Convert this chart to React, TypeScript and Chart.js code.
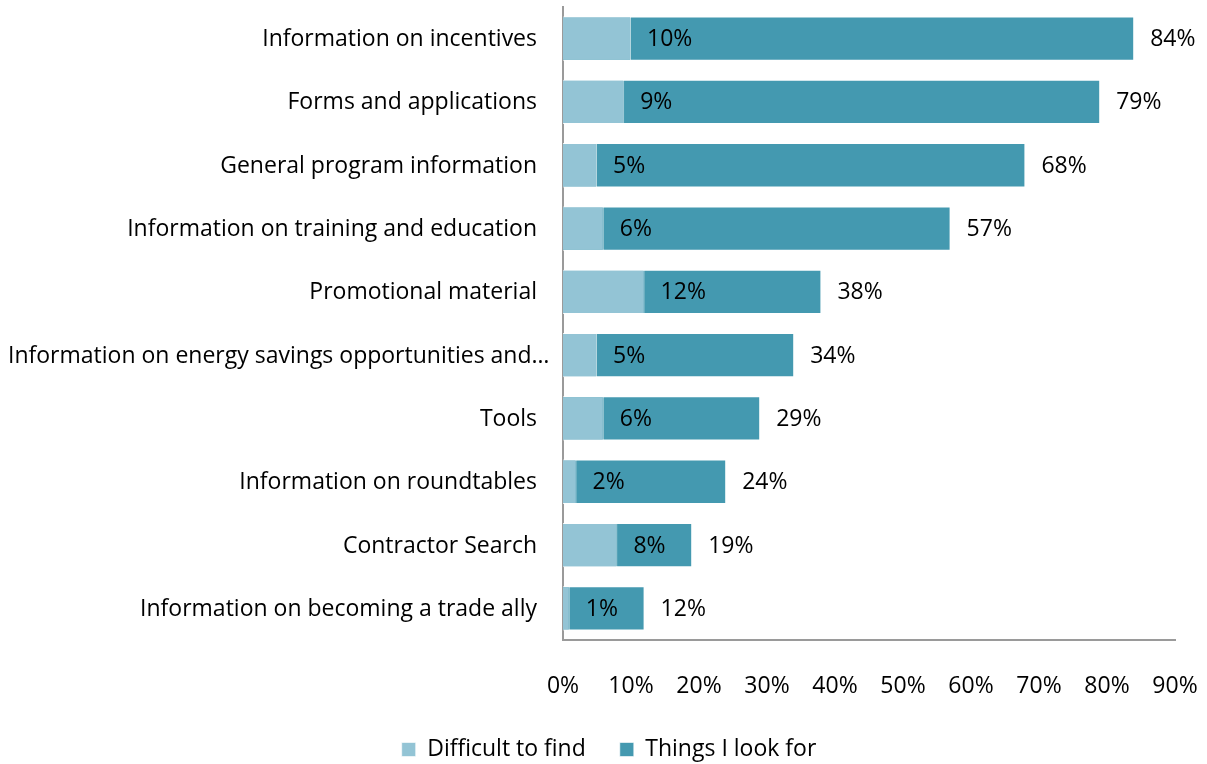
import React, { useEffect, useRef } from "react";
import { Chart, registerables } from "chart.js";

Chart.register(...registerables);

const categories = [
  "Information on incentives",
  "Forms and applications",
  "General program information",
  "Information on training and education",
  "Promotional material",
  "Information on energy savings opportunities and…",
  "Tools",
  "Information on roundtables",
  "Contractor Search",
  "Information on becoming a trade ally",
];
const difficultToFind = [10, 9, 5, 6, 12, 5, 6, 2, 8, 1];
const thingsILookFor = [84, 79, 68, 57, 38, 34, 29, 24, 19, 12];
const xTicks = [0, 10, 20, 30, 40, 50, 60, 70, 80, 90];

const FONT = "'Open Sans', sans-serif";
const FS = 23;
const LEFT_PAD = 43;

const labelPlugin = {
  id: "barLabels",
  afterDatasetsDraw(chart: any) {
    const ctx = chart.ctx;
    ctx.save();
    ctx.font = `${FS}px ${FONT}`;
    ctx.fillStyle = "#000";
    ctx.textAlign = "left";
    ctx.textBaseline = "middle";
    chart.data.datasets.forEach((ds: any, di: number) => {
      const meta = chart.getDatasetMeta(di);
      meta.data.forEach((el: any, i: number) => {
        ctx.fillText(ds.data[i] + "%", el.x + 16, el.y + 1);
      });
    });
    // category labels (right aligned; overflowing ones start at the left edge)
    const yScale = chart.scales.y;
    const right = yScale.right - 26;
    categories.forEach((c, i) => {
      const y = yScale.getPixelForTick(i) + 1;
      const w = ctx.measureText(c).width;
      if (right - w < 8) {
        ctx.textAlign = "left";
        ctx.fillText(c, 8, y);
      } else {
        ctx.textAlign = "right";
        ctx.fillText(c, right, y);
      }
    });
    ctx.restore();
  },
};

export default function App() {
  const ref = useRef<HTMLCanvasElement>(null);
  useEffect(() => {
    document.body.style.margin = "0";
    const chart = new Chart(ref.current!, {
      type: "bar",
      data: {
        labels: categories,
        datasets: [
          {
            label: "Difficult to find",
            data: difficultToFind,
            backgroundColor: "#93C4D5",
            borderColor: "rgba(255,255,255,0.6)",
            borderWidth: 1,
            barPercentage: 0.7,
            categoryPercentage: 1,
          },
          {
            label: "Things I look for",
            data: thingsILookFor,
            backgroundColor: "#4499B0",
            borderColor: "rgba(255,255,255,0.6)",
            borderWidth: 1,
            barPercentage: 0.7,
            categoryPercentage: 1,
          },
        ],
      },
      options: {
        indexAxis: "y",
        animation: false,
        responsive: false,
        layout: { padding: { top: 7, right: 32, left: LEFT_PAD, bottom: -7 } },
        scales: {
          y: {
            stacked: true,
            grid: { display: false, drawTicks: false },
            border: { display: true, color: "#9a9a9a", width: 2 },
            ticks: { display: false },
            afterFit(scale: any) {
              scale.width = 563 - LEFT_PAD;
            },
          },
          x: {
            min: 0,
            max: 90,
            grid: { display: false, drawTicks: true, tickLength: 33 },
            border: { display: true, color: "#9a9a9a", width: 2 },
            afterBuildTicks(scale: any) {
              scale.ticks = xTicks.map((v) => ({ value: v }));
            },
            ticks: {
              color: "#000",
              font: { family: FONT, size: FS },
              padding: 0,
              maxRotation: 0,
              callback: (v: any) => v + "%",
            },
            afterFit(scale: any) {
              scale.height = 64;
            },
          },
        },
        plugins: {
          legend: {
            position: "bottom",
            labels: {
              color: "#000",
              font: { family: FONT, size: FS },
              boxWidth: 14,
              boxHeight: 14,
              padding: 34,
            },
          },
          tooltip: { enabled: false },
        },
      },
      plugins: [labelPlugin],
    });
    return () => chart.destroy();
  }, []);
  return (
    <div style={{ width: 1207, height: 764 }}>
      <canvas ref={ref} width={1207} height={764} />
    </div>
  );
}
